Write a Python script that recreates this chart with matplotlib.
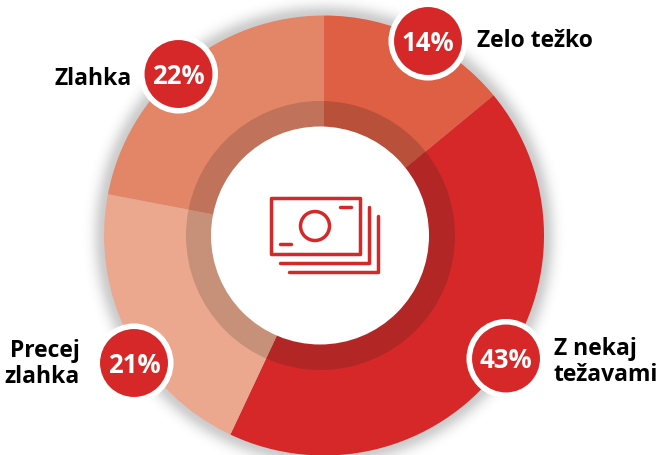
import matplotlib
import matplotlib.pyplot as plt
import numpy as np
from matplotlib.patches import Circle, Rectangle
from matplotlib.path import Path

matplotlib.use('Agg')

# Data
shares = [14, 43, 21, 22]
share_labels = ['14%', '43%', '21%', '22%']
names = ['Zelo težko', 'Z nekaj\ntežavami', 'Precej\nzlahka', 'Zlahka']
colors = ['#DE5F43', '#D62828', '#ECA78F', '#E38668']
ring_colors = ['#B95039', '#B32626', '#C79079', '#C0725A']

# Pixel positions from the reference
cx, cy = 324, 236.5
ring_cx = 320.5
bubbles = [(428, 42), (506, 359.5), (134, 364), (178.5, 75)]
name_pos = [(477, 41, 'left'), (554, 362, 'left'), (80, 364, 'right'), (132, 79, 'right')]

RED = '#D62828'
FONT = 'Open Sans'


def py(y):
    # reference pixels count from the top
    return 456 - y


fig = plt.figure(figsize=(6.6, 4.56), dpi=100)
ax = fig.add_axes([0, 0, 1, 1])

# soft shadow round the pie
xx, yy = np.meshgrid(np.arange(660) + 0.5, np.arange(456) + 0.5)
dist = np.clip(np.hypot(xx - cx, yy - cy) - 220, 0, None)
shadow = np.zeros((456, 660, 4))
shadow[..., 3] = 0.2 * np.exp(-(dist / 11.0) ** 2)
ax.imshow(shadow, extent=(0, 660, 0, 456), origin='upper', zorder=0, interpolation='bilinear')

ax.pie(shares, colors=colors, startangle=90, counterclock=False, radius=220,
       center=(cx, py(cy)), wedgeprops={'linewidth': 0}, frame=True)

# darker ring: same wedges, cut by a circle that sits a little to the left
ring, _ = ax.pie(shares, colors=ring_colors, startangle=90, counterclock=False, radius=215,
                 center=(cx, py(cy)), wedgeprops={'linewidth': 0}, frame=True)

ax.add_patch(Circle((320, py(cy)), 109, color='white', lw=0, zorder=3))

# money icon
lw = 2.5
ax.add_patch(Rectangle((271, py(255)), 88.5, 56, fill=False, ec=RED, lw=lw, zorder=4, joinstyle='round'))
ax.add_patch(Circle((315, py(227)), 14.5, fill=False, ec=RED, lw=lw, zorder=4))
ax.plot([340, 351], [py(208), py(208)], color=RED, lw=lw, solid_capstyle='round', zorder=4)
ax.plot([280, 291], [py(245), py(245)], color=RED, lw=lw, solid_capstyle='round', zorder=4)
ax.plot([280, 369, 369], [py(264), py(264), py(208)], color=RED, lw=lw,
        solid_capstyle='round', solid_joinstyle='round', zorder=4)
ax.plot([289, 378, 378], [py(273), py(273), py(217)], color=RED, lw=lw,
        solid_capstyle='round', solid_joinstyle='round', zorder=4)

for (bx, by), lab in zip(bubbles, share_labels):
    ax.add_patch(Circle((bx, py(by)), 36.75, fc=RED, ec='white', lw=4, zorder=5))
    ax.text(bx, py(by + 1.5), lab, color='white', fontsize=18.5, fontweight='bold',
            family=FONT, ha='center', va='center', zorder=6)

for (x, y, ha), name in zip(name_pos, names):
    ax.text(x, py(y), name, color='black', fontsize=16.5, fontweight='bold', family=FONT,
            ha=ha, va='center', linespacing=1.14, zorder=6)

ax.set_xlim(0, 660)
ax.set_ylim(0, 456)
ax.set_aspect('equal')
ax.axis('off')

# pie turns clipping off on its wedges, so switch it back on for the ring
ring_path = Path.circle((ring_cx, py(cy)), 134.5)
for w in ring:
    w.set_clip_on(True)
    w.set_clip_path(ring_path, ax.transData)

fig.savefig('out.png', dpi=100)
plt.close(fig)
